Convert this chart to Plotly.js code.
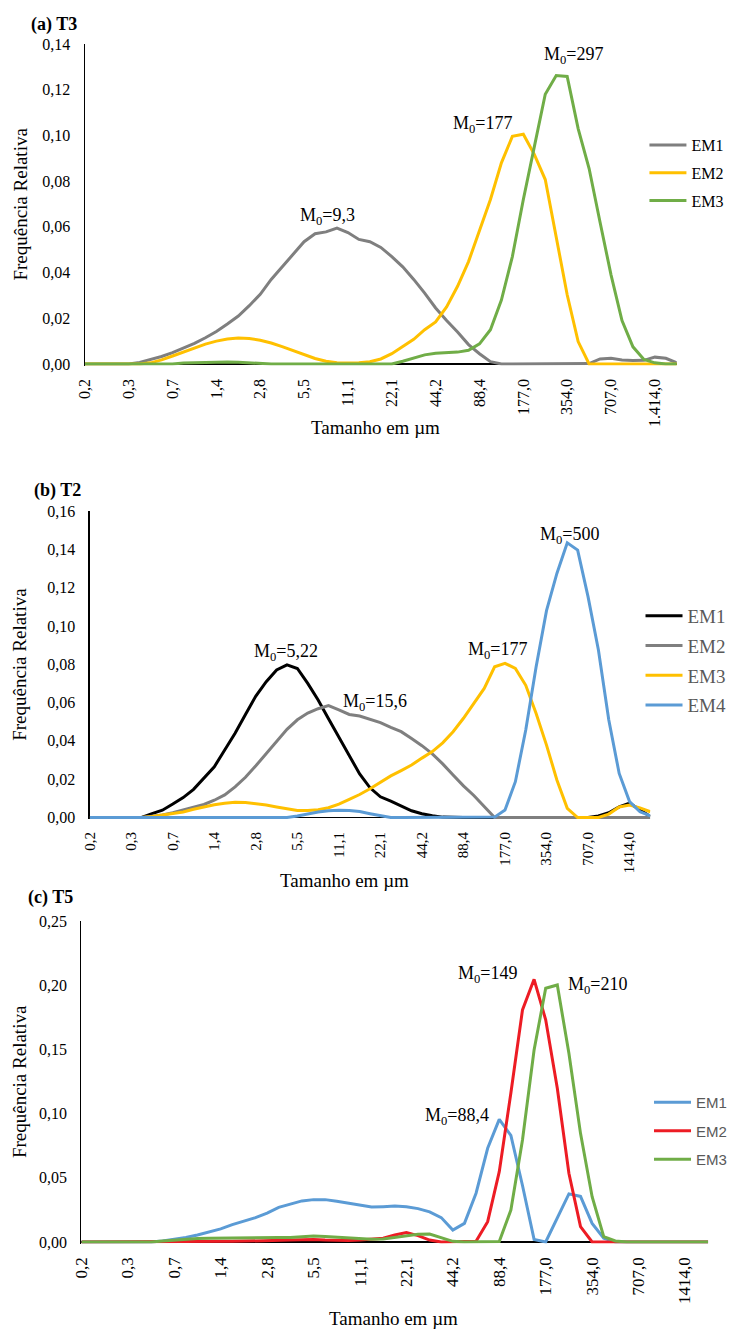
<!DOCTYPE html>
<html>
<head>
<meta charset="utf-8">
<script src="https://cdn.plot.ly/plotly-3.0.1.min.js"></script>
<style>
  html, body { margin: 0; padding: 0; background: #fff; }
  #chart { width: 732px; height: 1332px; }
</style>
</head>
<body>
<div id="chart"></div>
<script>
// Size-class tick labels (one label every four classes, 0.25 phi steps)
const tickLabelsT3 = ['0,2','0,3','0,7','1,4','2,8','5,5','11,1','22,1','44,2','88,4','177,0','354,0','707,0','1.414,0'];
const tickLabelsT2 = ['0,2','0,3','0,7','1,4','2,8','5,5','11,1','22,1','44,2','88,4','177,0','354,0','707,0','1414,0'];
const tickLabelsT5 = ['0,2','0,3','0,7','1,4','2,8','5,5','11,1','22,1','44,2','88,4','177,0','354,0','707,0','1414,0'];

// (a) T3 — relative frequency of each end member per size class
const t3EM1 = [0,0,0,0,0, 0.0007,0.0019,0.0033,0.005,0.007, 0.009,0.0115,0.0142,0.0175,0.021,
  0.0255,0.0305,0.037,0.0425,0.048, 0.0535,0.057,0.0578,0.0595,0.0575, 0.0545,0.0535,0.051,0.047,0.0425,
  0.037,0.031,0.0245,0.019,0.014, 0.0085,0.0045,0.001,0,0, 0,0,0,0,0,
  0,0.0002,0.0022,0.0025,0.0018, 0.0015,0.0016,0.003,0.0025,0.0005];
const t3EM2 = [0,0,0,0,0, 0,0.0005,0.0018,0.0035,0.0052, 0.007,0.0087,0.01,0.0109,0.0114,
  0.0112,0.0104,0.0092,0.0076,0.0058, 0.004,0.0024,0.0012,0.0006,0.0004, 0.0005,0.001,0.0022,0.0045,0.0078,
  0.0108,0.015,0.0184,0.025,0.034, 0.0448,0.0588,0.072,0.088,0.0996, 0.1005,0.0917,0.0807,0.0558,0.0303,
  0.0098,0,0,0,0, 0,0,0,0,0];
const t3EM3 = [0,0,0,0,0, 0,0,0,0,0.0004, 0.0006,0.0008,0.0009,0.0009,0.0008,
  0.0005,0.0002,0,0,0, 0,0,0,0,0, 0,0,0,0,0.0012,
  0.0026,0.004,0.0047,0.005,0.0052, 0.006,0.0088,0.015,0.028,0.047, 0.072,0.095,0.118,0.1262,0.1258,
  0.103,0.0855,0.062,0.039,0.019, 0.0075,0.002,0.0005,0,0];

// (b) T2
const t2EM1 = [0,0,0,0,0, 0,0.002,0.0038,0.007,0.0104, 0.0147,0.0208,0.0265,0.0352,0.044,
  0.0538,0.0634,0.0709,0.077,0.0797, 0.0778,0.07,0.0613,0.0516,0.042, 0.0323,0.0227,0.0155,0.0108,0.0085,
  0.0058,0.0035,0.002,0.0009,0.0002, 0,0,0,0,0, 0,0,0,0,0,
  0,0,0,0,0.0008, 0.0025,0.0055,0.0075,0.004,0.0005];
const t2EM2 = [0,0,0,0,0, 0,0.0006,0.0013,0.0025,0.0039, 0.0052,0.0068,0.009,0.0118,0.016,
  0.021,0.027,0.0335,0.0398,0.046, 0.051,0.0545,0.0568,0.0584,0.0562, 0.0538,0.053,0.0512,0.0495,0.047,
  0.0448,0.0412,0.0375,0.0332,0.028, 0.0222,0.0165,0.0115,0.006,0, 0,0,0,0,0,
  0,0,0,0,0, 0,0,0,0,0];
const t2EM3 = [0,0,0,0,0, 0,0.0005,0.0013,0.0022,0.0029, 0.0043,0.0057,0.0067,0.0074,0.0079,
  0.0078,0.0072,0.0065,0.0055,0.0046, 0.0037,0.0036,0.0041,0.0051,0.007, 0.0095,0.012,0.015,0.0184,0.0217,
  0.0245,0.0274,0.031,0.0344,0.039, 0.0448,0.0518,0.0596,0.0674,0.0787, 0.0805,0.0778,0.069,0.0543,0.0378,
  0.0196,0.0048,0,0,0, 0.0018,0.0055,0.0065,0.005,0.003];
const t2EM4 = [0,0,0,0,0, 0,0,0,0,0, 0,0,0,0,0,
  0,0,0,0,0, 0.0008,0.0019,0.0029,0.0035,0.0038, 0.0037,0.0031,0.002,0.0008,0,
  0,0,0,0,0, 0,0,0,0,0.0002, 0.0039,0.0187,0.0457,0.0787,0.108,
  0.1274,0.1434,0.1396,0.1153,0.0874, 0.0509,0.023,0.0083,0.003,0.0008];

// (c) T5
const t5EM1 = [0,0,0,0,0, 0,0,0.0008,0.0022,0.0035, 0.0055,0.0077,0.0102,0.0135,0.0162,
  0.019,0.0225,0.027,0.0295,0.032, 0.033,0.033,0.0318,0.0302,0.029, 0.0272,0.0275,0.028,0.0275,0.026,
  0.0235,0.019,0.0093,0.0145,0.038, 0.073,0.0955,0.083,0.044,0.002, 0,0.0184,0.0375,0.0355,0.0145,
  0.003,0,0,0,0, 0,0,0,0,0];
const t5EM2 = [0,0,0,0,0, 0,0,0,0,0, 0,0,0.0003,0.0005,0.0007,
  0.0008,0.001,0.0012,0.0015,0.0018, 0.002,0.0016,0.0013,0.0012,0.0015, 0.002,0.003,0.0055,0.0073,0.005,
  0.0015,0,0,0,0.0005, 0.0158,0.0548,0.116,0.1807,0.2046, 0.173,0.1197,0.0535,0.012,0,
  0,0,0,0,0, 0,0,0,0,0];
const t5EM3 = [0,0,0,0,0, 0,0,0.0008,0.0015,0.0022, 0.0027,0.003,0.003,0.003,0.003,
  0.003,0.0032,0.0035,0.0036,0.0042, 0.0047,0.0043,0.0038,0.0033,0.003, 0.0022,0.0024,0.0035,0.005,0.006,
  0.0062,0.0035,0.0005,0,0, 0,0.0003,0.0249,0.0794,0.1495, 0.1976,0.2002,0.147,0.0846,0.0353,
  0.0042,0.0008,0,0,0, 0,0,0,0,0];

// Modal sizes written above the peaks: [text, class position, height]
const modesT3 = [['9,3', 22.1, 0.0645], ['177', 36.3, 0.105], ['297', 44.6, 0.135]];
const modesT2 = [['5,22', 18.95, 0.0859], ['15,6', 27.5, 0.0598], ['177', 39.3, 0.087], ['500', 46.2, 0.147]];
const modesT5 = [['149', 35.0, 0.2087], ['210', 44.5, 0.1994], ['88,4', 32.4, 0.098]];

const W = 732, H = 1332;
const SERIF = '"Liberation Serif", "Times New Roman", serif';
const SANS = '"Liberation Sans", Arial, sans-serif';
const GRAY = '#7F7F7F', YELLOW = '#FFC000', GREEN = '#70AD47', BLUE = '#5B9BD5', RED = '#ED1C24', BLACK = '#000000';

// Panel frames in pixels: left/right edges, pixel row of the top value and of zero
const panels = [
  { left: 86.5, right: 690, top: 44,  zero: 364,    max: 0.14, dtick: 0.02, ticks: tickLabelsT3, tickSize: 16 },
  { left: 91.5, right: 663, top: 511, zero: 817.5,  max: 0.16, dtick: 0.02, ticks: tickLabelsT2, tickSize: 15 },
  { left: 83,   right: 722, top: 921, zero: 1242,   max: 0.25, dtick: 0.05, ticks: tickLabelsT5, tickSize: 17 }
];

const px = v => v / W;
const py = v => 1 - v / H;
const classPositions = n => Array.from({ length: n }, (_, i) => i);

const layout = {
  width: W, height: H,
  margin: { l: 0, r: 0, t: 0, b: 0 },
  paper_bgcolor: '#fff', plot_bgcolor: '#fff',
  separators: ',.',
  showlegend: true,
  font: { family: SERIF, color: '#000' },
  annotations: []
};

panels.forEach((p, k) => {
  const sfx = k === 0 ? '' : String(k + 1);
  const pad = p.max * 1.5 / (p.zero - p.top);
  const nClasses = 55;
  layout['xaxis' + sfx] = {
    domain: [px(p.left), px(p.right)],
    anchor: 'y' + sfx,
    range: [0, nClasses - 1],
    tickmode: 'array',
    tickvals: p.ticks.map((_, i) => i * 4),
    ticktext: p.ticks,
    tickangle: -90,
    ticks: 'outside', ticklen: 6, tickcolor: 'rgba(0,0,0,0)',
    tickfont: { family: SERIF, size: p.tickSize, color: '#000' },
    showline: false, showgrid: false, zeroline: false,
    fixedrange: true
  };
  layout['yaxis' + sfx] = {
    domain: [py(p.zero + 1.5), py(p.top)],
    anchor: 'x' + sfx,
    range: [-pad, p.max],
    tick0: 0, dtick: p.dtick,
    tickformat: '.2f',
    ticks: 'outside', ticklen: 10, tickcolor: 'rgba(0,0,0,0)',
    tickfont: { family: SERIF, size: 16, color: '#000' },
    showline: true, linecolor: '#000', linewidth: 1.3,
    showgrid: false,
    zeroline: true, zerolinecolor: '#000', zerolinewidth: 1.3,
    layer: 'below traces',
    fixedrange: true
  };
});

// Panel titles, axis titles
const panelTitles = [['(a) T3', 30, 25], ['(b) T2', 33, 490], ['(c) T5', 26, 897]];
panelTitles.forEach(([t, x, y]) => layout.annotations.push({
  xref: 'paper', yref: 'paper', x: px(x), y: py(y), xanchor: 'left', yanchor: 'middle',
  text: '<b>' + t + '</b>', showarrow: false, font: { family: SERIF, size: 18, color: '#000' }
}));
panels.forEach(p => layout.annotations.push({
  xref: 'paper', yref: 'paper', x: px(20), y: py((p.top + p.zero) / 2), xanchor: 'center', yanchor: 'middle',
  textangle: -90, text: 'Frequência Relativa', showarrow: false, font: { family: SERIF, size: 19, color: '#000' }
}));
[[383, 427], [351, 880], [401, 1318]].forEach(([x, y]) => layout.annotations.push({
  xref: 'paper', yref: 'paper', x: px(x), y: py(y), xanchor: 'center', yanchor: 'middle',
  text: 'Tamanho em µm', showarrow: false, font: { family: SERIF, size: 19, color: '#000' }
}));

// Mode labels
[modesT3, modesT2, modesT5].forEach((modes, k) => {
  const sfx = k === 0 ? '' : String(k + 1);
  modes.forEach(([t, x, y]) => layout.annotations.push({
    xref: 'x' + sfx, yref: 'y' + sfx, x: x, y: y, xanchor: 'center', yanchor: 'middle',
    text: 'M<sub>0</sub>=' + t, showarrow: false, font: { family: SERIF, size: 18, color: '#000' }
  }));
});

// Legends, one per panel
layout.legend = {
  x: px(657), y: py(128), xanchor: 'left', yanchor: 'top',
  bgcolor: 'rgba(0,0,0,0)', traceorder: 'grouped', tracegroupgap: 4,
  font: { family: SERIF, size: 16, color: '#000' }, itemwidth: 37
};
layout.legend2 = {
  x: px(653), y: py(597), xanchor: 'left', yanchor: 'top',
  bgcolor: 'rgba(0,0,0,0)', traceorder: 'grouped', tracegroupgap: 2,
  font: { family: SERIF, size: 19, color: '#595959' }, itemwidth: 37
};
layout.legend3 = {
  x: px(662), y: py(1086), xanchor: 'left', yanchor: 'top',
  bgcolor: 'rgba(0,0,0,0)', traceorder: 'grouped', tracegroupgap: 6,
  font: { family: SANS, size: 15, color: '#595959' }, itemwidth: 37
};

function series(y, name, color, panel) {
  const sfx = panel === 0 ? '' : String(panel + 1);
  return {
    type: 'scatter', mode: 'lines',
    x: classPositions(y.length), y: y, name: name,
    xaxis: 'x' + sfx, yaxis: 'y' + sfx,
    legend: panel === 0 ? 'legend' : 'legend' + (panel + 1),
    legendgroup: 'p' + panel + name,
    line: { color: color, width: 3 },
    hoverinfo: 'skip'
  };
}

const data = [
  series(t3EM1, 'EM1', GRAY, 0),
  series(t3EM2, 'EM2', YELLOW, 0),
  series(t3EM3, 'EM3', GREEN, 0),
  series(t2EM1, 'EM1', BLACK, 1),
  series(t2EM2, 'EM2', GRAY, 1),
  series(t2EM3, 'EM3', YELLOW, 1),
  series(t2EM4, 'EM4', BLUE, 1),
  series(t5EM1, 'EM1', BLUE, 2),
  series(t5EM2, 'EM2', RED, 2),
  series(t5EM3, 'EM3', GREEN, 2)
];

Plotly.newPlot('chart', data, layout, { staticPlot: true, displayModeBar: false });
</script>
</body>
</html>
